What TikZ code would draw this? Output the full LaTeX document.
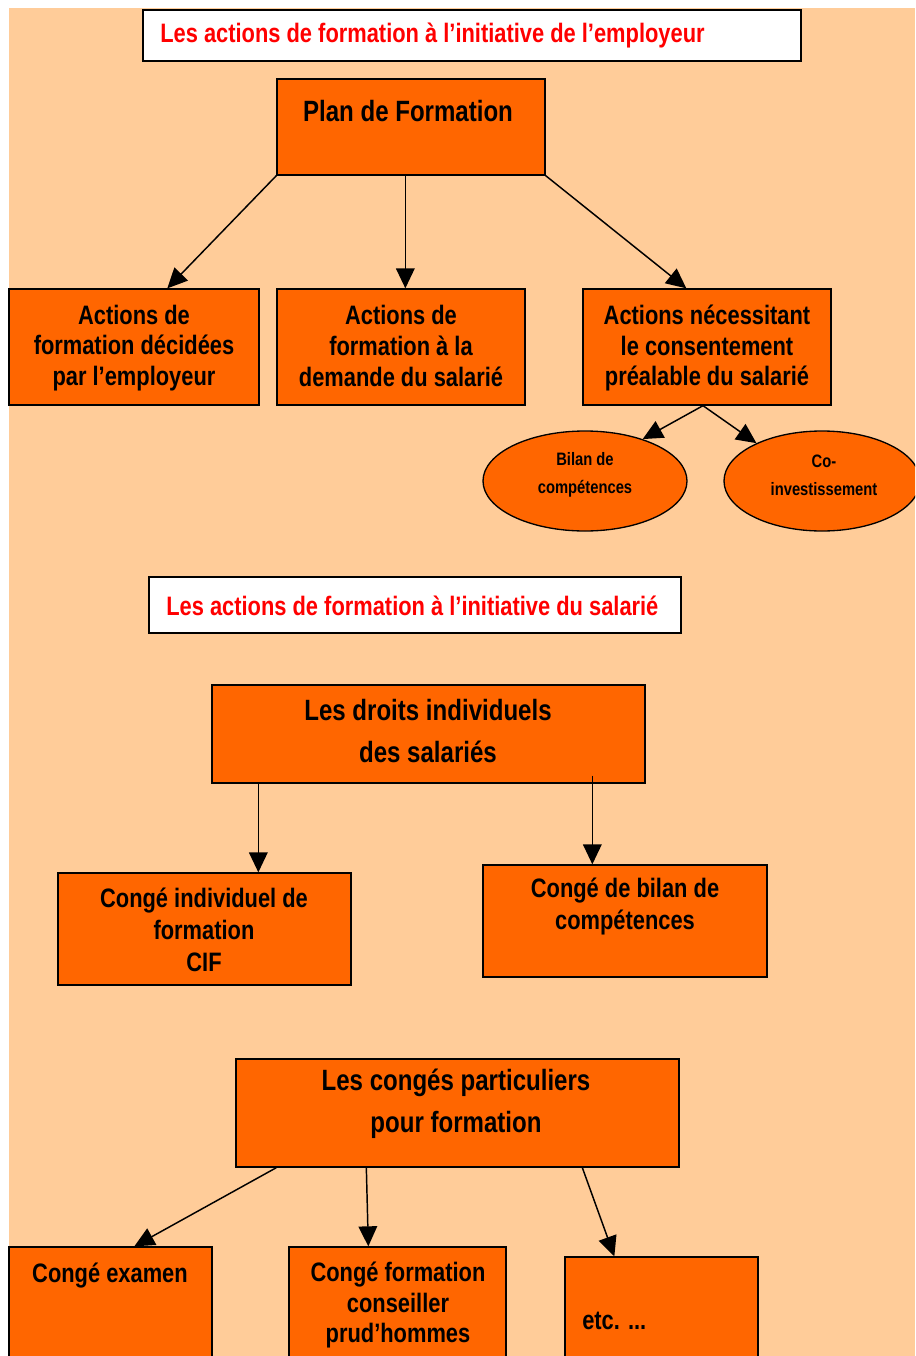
\documentclass[tikz,border=0pt]{standalone}
\usepackage{fontspec}
\setmainfont{Liberation Sans}[FakeStretch=0.82]
\usetikzlibrary{arrows.meta,fit,calc,shapes.geometric}
\definecolor{bg}{HTML}{FFCC99}
\definecolor{org}{HTML}{FF6600}
\definecolor{ttlred}{HTML}{FF0000}
\begin{document}
\begin{tikzpicture}[x=0.75pt,y=-0.75pt,
  box/.style={draw=black, line width=1pt, fill=org, inner sep=0pt},
  ttl/.style={draw=black, line width=1pt, fill=white, inner sep=0pt},
  oval/.style={draw=black, line width=1pt, fill=org, ellipse, inner sep=0pt, minimum height=75pt},
  txt/.style={align=center, inner sep=0pt, font=\bfseries\fontsize{20}{23}\selectfont},
  bigtxt/.style={align=center, inner sep=0pt, font=\bfseries\fontsize{22}{31.5}\selectfont},
  smalltxt/.style={align=center, inner sep=0pt, font=\bfseries\fontsize{13.5}{21}\selectfont},
  ttltxt/.style={anchor=west, inner sep=0pt, text=ttlred, font=\bfseries\fontsize{20}{23}\selectfont},
  arr/.style={-{Triangle[length=15pt,width=14pt]}, line width=1.1pt}
]
\useasboundingbox (0,0) rectangle (915,1356);
\clip (0,0) rectangle (915,1356);
\fill[bg] (9,8) rectangle (915,1356);

% --- first part
\node[ttl, fit={(143,10)(801,61)}] (t1) {};
\node[ttltxt] (t1txt) at (160,35) {Les actions de formation à l’initiative de l’employeur};

\node[box, fit={(277,79)(545,175)}] (plan) {};
\node[bigtxt] (plantxt) at (408,111) {Plan de Formation};

\node[box, fit={(9,289)(259,405)}] (a1) {};
\node[txt] (a1txt) at (134,348) {Actions de\\formation décidées\\par l’employeur};
\node[box, fit={(277,289)(525,405)}] (a2) {};
\node[txt] (a2txt) at (401,346) {Actions de\\formation à la\\demande du salarié};
\node[box, fit={(583,289)(831,405)}] (a3) {};
\node[txt] (a3txt) at (707,348) {Actions nécessitant\\le consentement\\préalable du salarié};

\draw[arr] (plan.south west) -- ($(a1.north west)+(159,0)$);
\draw[arr] ($(plan.south west)+(129,0)$) -- ($(a2.north west)+(129,0)$);
\draw[arr] (plan.south east) -- ($(a3.north west)+(104,0)$);

\node[oval, minimum width=153pt] (e1) at (585,481) {};
\node[smalltxt] (e1txt) at (585,475) {Bilan de\\compétences};
\node[oval, minimum width=147pt] (e2) at (822,481) {};
\node[smalltxt] (e2txt) at (824,475) {Co-\\investissement};

\draw[arr] ($(a3.south)+(-4,0)$) -- (e1.36);
\draw[arr] ($(a3.south)+(-4,0)$) -- (e2.150);

% --- second part
\node[ttl, fit={(149,577)(681,633)}] (t2) {};
\node[ttltxt] (t2txt) at (166,606) {Les actions de formation à l’initiative du salarié};

\node[box, fit={(212,685)(645,783)}] (d) {};
\node[bigtxt] (dtxt) at (428,731) {Les droits individuels\\des salariés};

\node[box, fit={(58,873)(351,985)}] (cif) {};
\node[txt, font=\bfseries\fontsize{20}{24}\selectfont] (ciftxt) at (204,930) {Congé individuel de\\formation\\CIF};
\node[box, fit={(483,865)(767,977)}] (bil) {};
\node[txt, font=\bfseries\fontsize{20}{24}\selectfont] (biltxt) at (625,906) {Congé de bilan de\\compétences};

\draw[arr] ($(d.south west)+(47,0)$) -- ($(cif.north west)+(201,0)$);
\draw[arr] ($(d.south west)+(381,-8)$) -- ($(bil.north west)+(110,0)$);

% --- third part
\node[box, fit={(236,1059)(679,1167)}] (p) {};
\node[bigtxt] (ptxt) at (456,1104) {Les congés particuliers\\pour formation};

\node[box, fit={(9,1247)(212,1380)}] (b1) {};
\node[txt] (b1txt) at (110,1276) {Congé examen};
\node[box, fit={(289,1247)(506,1380)}] (b2) {};
\node[txt] (b2txt) at (398,1305) {Congé formation\\conseiller\\prud’hommes};
\node[box, fit={(565,1257)(758,1380)}] (b3) {};
\node[txt, anchor=west] (b3txt) at (582,1321) {etc. ...};

\draw[arr] ($(p.south west)+(41,0)$) -- ($(b1.north west)+(126,0)$);
\draw[arr] ($(p.south west)+(131,0)$) -- ($(b2.north west)+(80,0)$);
\draw[arr] ($(p.south west)+(347,0)$) -- ($(b3.north west)+(50,0)$);
\end{tikzpicture}
\end{document}
